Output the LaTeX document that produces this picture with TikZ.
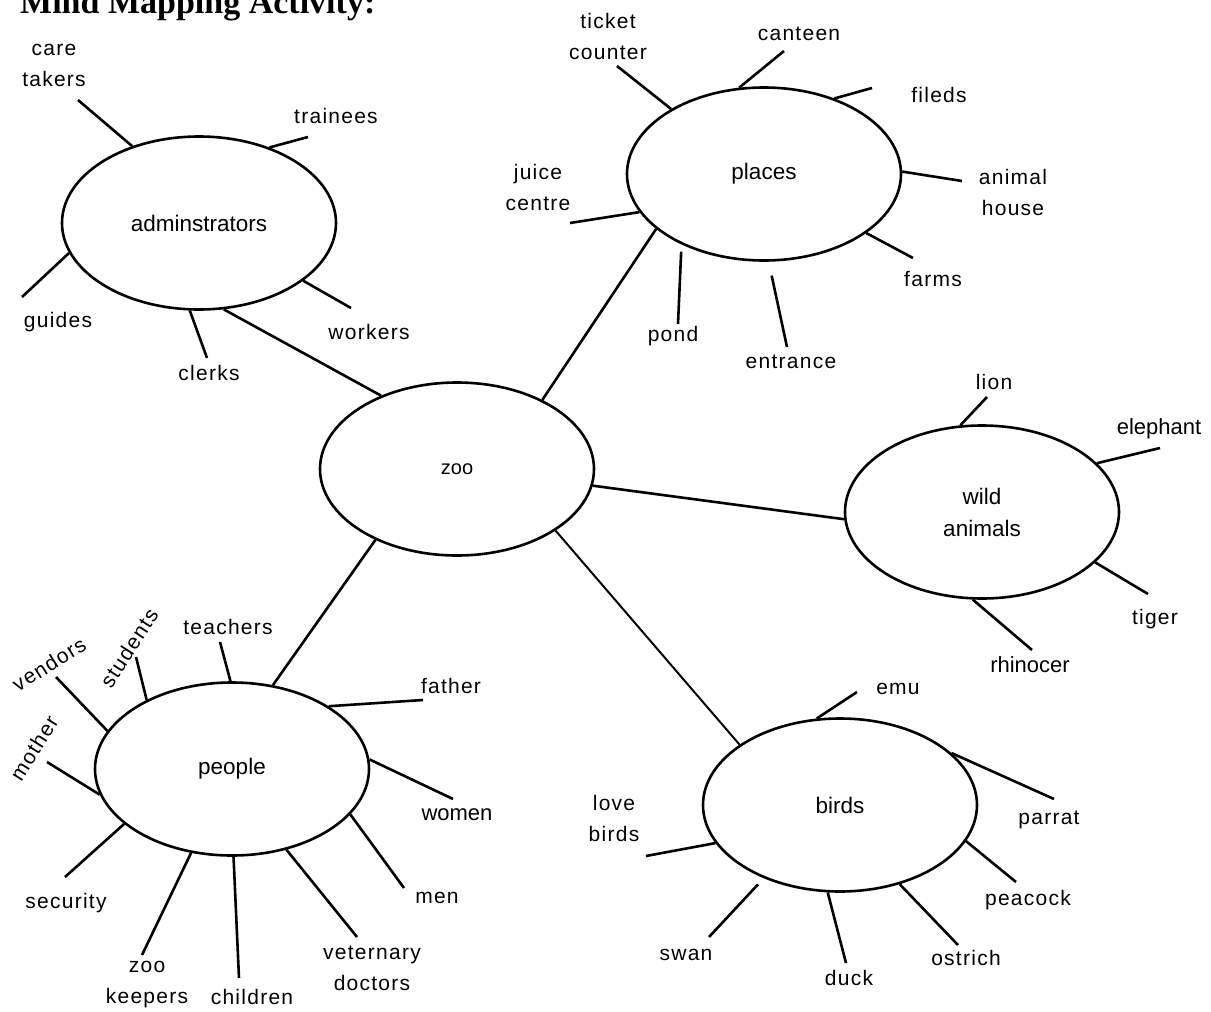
\documentclass[tikz,border=0pt]{standalone}
\usepackage{fontspec}
\setmainfont{Liberation Sans}
\newfontfamily\spfont[LetterSpace=6]{Liberation Sans}
\newfontfamily\ttlfont{Liberation Serif}
\usetikzlibrary{shapes.geometric}

\begin{document}
\begin{tikzpicture}[x=1pt,y=-1pt,
    hub/.style={draw, ellipse, line width=2.6pt, minimum width=274pt, minimum height=173pt,
      inner sep=0pt, align=center, font=\fontsize{22.5}{32}\selectfont},
    lbl/.style={inner sep=0pt, align=center, font=\spfont\fontsize{21}{31}\selectfont},
    plain/.style={inner sep=0pt, align=center, font=\fontsize{22}{31}\selectfont},
    spoke/.style={line width=2.6pt}]
        \useasboundingbox (0,0) rectangle (1211,1012);
        \clip (0,0) rectangle (1211,1012);
        % Mind map of the zoo
        \node[anchor=base west, inner sep=0pt, font=\ttlfont\bfseries\fontsize{34}{40}\selectfont] (title) at (20,13) {Mind Mapping Activity:};

        \node[hub, font=\fontsize{20}{32}\selectfont] (zoo) at (457,469) {zoo};
        \node[hub] (adm) at (199,223) {adminstrators};
        \node[hub] (pla) at (764,174) {places};
        \node[hub] (wild) at (982,512) {wild\\animals};
        \node[hub] (ppl) at (232,769) {people};
        \node[hub] (brd) at (840,805) {birds};

        \draw[spoke] (adm.286) -- (zoo.136);
        \draw[spoke] (zoo.39) -- (pla.207);
        \draw[spoke] (zoo.353) -- (wild.183);
        \draw[spoke] (zoo.221) -- (ppl.64);
        \draw[line width=2pt] (zoo.328) -- (brd.149);

        % adminstrators
        \node[lbl] (care) at (54,65) {care\\takers};
        \node[lbl] (trainees) at (336,116) {trainees};
        \node[lbl] (guides) at (58,322) {guides};
        \node[lbl] (clerks) at (209,373) {clerks};
        \node[lbl] (workers) at (369,332) {workers};
        \draw[spoke] (adm.131) -- (78,100) coordinate (careE);
        \draw[spoke] (adm.47) -- (308,137) coordinate (traineesE);
        \draw[spoke] (adm.193) -- (22,297) coordinate (guidesE);
        \draw[spoke] (adm.264) -- (207,358) coordinate (clerksE);
        \draw[spoke] (adm.331) -- (351,308) coordinate (workersE);

        % places
        \node[lbl] (ticket) at (608,36) {ticket\\counter};
        \node[lbl] (canteen) at (799,34) {canteen};
        \node[lbl] (fileds) at (939,95) {fileds};
        \node[lbl] (house) at (1013,192) {animal\\house};
        \node[lbl] (farms) at (933,279) {farms};
        \node[lbl] (entrance) at (791,362) {entrance};
        \node[lbl] (pond) at (673,336) {pond};
        \node[lbl] (juice) at (538,187) {juice\\centre};
        \draw[spoke] (pla.145) -- (617,66) coordinate (ticketE);
        \draw[spoke] (pla.106) -- (784,51) coordinate (canteenE);
        \draw[spoke] (pla.47) -- (872,88) coordinate (filedsE);
        \draw[spoke] (pla.1) -- (962,181) coordinate (houseE);
        \draw[spoke] (pla.330) -- (913,258) coordinate (farmsE);
        \draw[spoke] ([shift={(0,14)}]pla.275) -- (787,347) coordinate (entranceE);
        \draw[spoke] ([shift={(-5,5)}]pla.223) -- (678,324) coordinate (pondE);
        \draw[spoke] (pla.197) -- (570,223) coordinate (juiceE);

        % wild animals
        \node[lbl] (lion) at (994,382) {lion};
        \node[plain] (elephant) at (1159,429) {elephant};
        \node[lbl] (tiger) at (1155,619) {tiger};
        \node[plain] (rhino) at (1030,665) {rhinocer};
        \draw[spoke] (wild.104) -- (987,397) coordinate (lionE);
        \draw[spoke] (wild.23) -- (1160,448) coordinate (elephantE);
        \draw[spoke] (wild.336) -- (1148,594) coordinate (tigerE);
        \draw[spoke] (wild.264) -- (1032,650) coordinate (rhinoE);

        % birds
        \node[lbl] (emu) at (898,689) {emu};
        \node[lbl] (parrat) at (1049,820) {parrat};
        \node[lbl] (peacock) at (1028,900) {peacock};
        \node[lbl] (ostrich) at (966,958) {ostrich};
        \node[lbl] (duck) at (849,978) {duck};
        \node[lbl] (swan) at (686,955) {swan};
        \node[lbl] (love) at (614,818) {love\\birds};
        \draw[spoke] (brd.105) -- (857,692) coordinate (emuE);
        \draw[spoke] (brd.25) -- (1054,799) coordinate (parratE);
        \draw[spoke] (brd.344) -- (1016,882) coordinate (peacockE);
        \draw[spoke] (brd.307) -- (958,945) coordinate (ostrichE);
        \draw[spoke] (brd.262) -- (846,963) coordinate (duckE);
        \draw[spoke] ([shift={(-6,6)}]brd.224) -- (709,937) coordinate (swanE);
        \draw[spoke] (brd.197) -- (646,856) coordinate (loveE);

        % people
        \node[lbl] (teachers) at (228,627) {teachers};
        \node[lbl, rotate=57] (students) at (129,648) {students};
        \node[lbl, rotate=32] (vendors) at (49,664) {vendors};
        \node[lbl, rotate=58] (mother) at (34,748) {mother};
        \node[lbl] (security) at (66,903) {security};
        \node[lbl] (keepers) at (147,985) {zoo\\keepers};
        \node[lbl] (children) at (252,997) {children};
        \node[lbl] (doctors) at (372,968) {veternary\\doctors};
        \node[lbl] (men) at (437,898) {men};
        \node[plain] (women) at (457,815) {women};
        \node[lbl] (father) at (451,686) {father};
        \draw[spoke] (ppl.91) -- (220,642) coordinate (teachersE);
        \draw[spoke] (ppl.141) -- (136,657) coordinate (studentsE);
        \draw[spoke] (ppl.163) -- (56,677) coordinate (vendorsE);
        \draw[spoke] (ppl.191) -- (47,762) coordinate (motherE);
        \draw[spoke] (ppl.207) -- (65,877) coordinate (securityE);
        \draw[spoke] (ppl.244) -- (142,955) coordinate (keepersE);
        \draw[spoke] (ppl.271) -- (239,978) coordinate (childrenE);
        \draw[spoke] (ppl.304) -- (357,937) coordinate (doctorsE);
        \draw[spoke] (ppl.339) -- (404,888) coordinate (menE);
        \draw[spoke] (ppl.4) -- (453,799) coordinate (womenE);
        \draw[spoke] (ppl.33) -- (423,700) coordinate (fatherE);
    \end{tikzpicture}
\end{document}
